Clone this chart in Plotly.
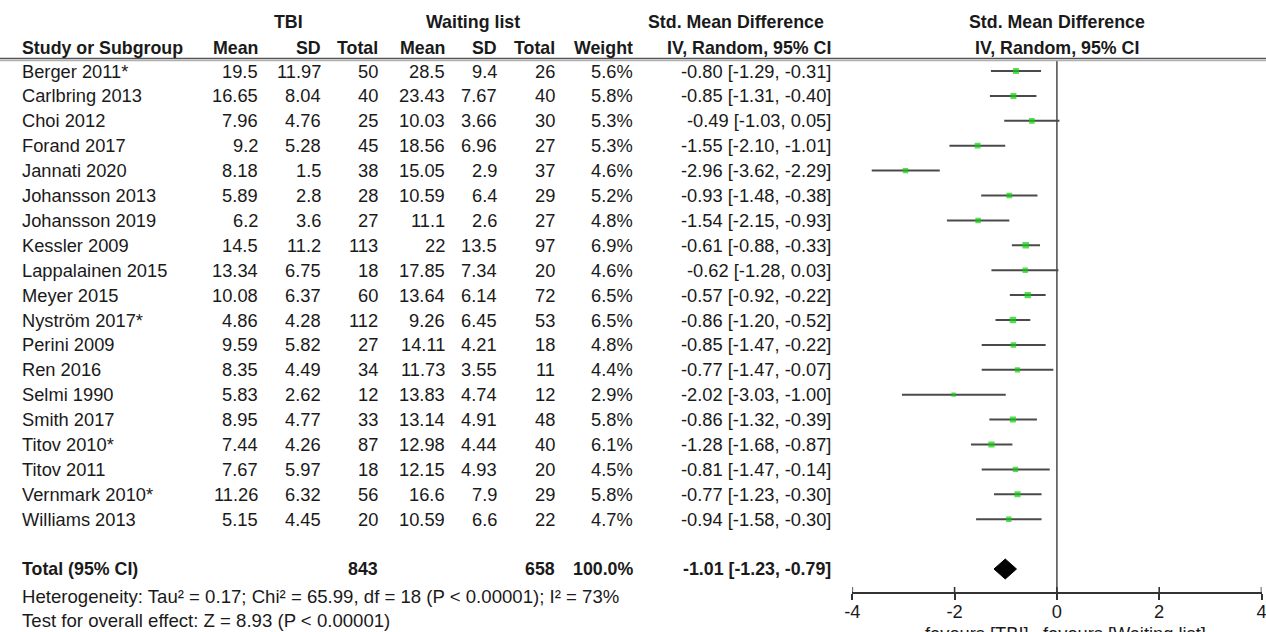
import plotly.graph_objects as go

# ---------------- data ----------------
studies = ["Berger 2011*", "Carlbring 2013", "Choi 2012", "Forand 2017", "Jannati 2020",
           "Johansson 2013", "Johansson 2019", "Kessler 2009", "Lappalainen 2015",
           "Meyer 2015", "Nyström 2017*", "Perini 2009", "Ren 2016", "Selmi 1990",
           "Smith 2017", "Titov 2010*", "Titov 2011", "Vernmark 2010*", "Williams 2013"]
tbi_mean = ["19.5", "16.65", "7.96", "9.2", "8.18", "5.89", "6.2", "14.5", "13.34", "10.08",
            "4.86", "9.59", "8.35", "5.83", "8.95", "7.44", "7.67", "11.26", "5.15"]
tbi_sd = ["11.97", "8.04", "4.76", "5.28", "1.5", "2.8", "3.6", "11.2", "6.75", "6.37",
          "4.28", "5.82", "4.49", "2.62", "4.77", "4.26", "5.97", "6.32", "4.45"]
tbi_n = [50, 40, 25, 45, 38, 28, 27, 113, 18, 60, 112, 27, 34, 12, 33, 87, 18, 56, 20]
wl_mean = ["28.5", "23.43", "10.03", "18.56", "15.05", "10.59", "11.1", "22", "17.85", "13.64",
           "9.26", "14.11", "11.73", "13.83", "13.14", "12.98", "12.15", "16.6", "10.59"]
wl_sd = ["9.4", "7.67", "3.66", "6.96", "2.9", "6.4", "2.6", "13.5", "7.34", "6.14",
         "6.45", "4.21", "3.55", "4.74", "4.91", "4.44", "4.93", "7.9", "6.6"]
wl_n = [26, 40, 30, 27, 37, 29, 27, 97, 20, 72, 53, 18, 11, 12, 48, 40, 20, 29, 22]
weight = [5.6, 5.8, 5.3, 5.3, 4.6, 5.2, 4.8, 6.9, 4.6, 6.5, 6.5, 4.8, 4.4, 2.9, 5.8, 6.1, 4.5, 5.8, 4.7]
smd = [-0.80, -0.85, -0.49, -1.55, -2.96, -0.93, -1.54, -0.61, -0.62, -0.57, -0.86, -0.85,
       -0.77, -2.02, -0.86, -1.28, -0.81, -0.77, -0.94]
ci_lo = [-1.29, -1.31, -1.03, -2.10, -3.62, -1.48, -2.15, -0.88, -1.28, -0.92, -1.20, -1.47,
         -1.47, -3.03, -1.32, -1.68, -1.47, -1.23, -1.58]
ci_hi = [-0.31, -0.40, 0.05, -1.01, -2.29, -0.38, -0.93, -0.33, 0.03, -0.22, -0.52, -0.22,
         -0.07, -1.00, -0.39, -0.87, -0.14, -0.30, -0.30]
total_tbi = 843
total_wl = 658
total_weight = "100.0%"
total_smd, total_lo, total_hi = -1.01, -1.23, -0.79
heterogeneity = "Heterogeneity: Tau² = 0.17; Chi² = 65.99, df = 18 (P < 0.00001); I² = 73%"
overall = "Test for overall effect: Z = 8.93 (P < 0.00001)"
x_ticks = [-4, -2, 0, 2, 4]

# ---------------- layout helpers ----------------
W, H = 1266, 632
ROW0_PX, ROW_PX = 71.0, 24.9


def row_of(px):
    return (px - ROW0_PX) / ROW_PX


def xp(px):
    return px / W


FONT = "Liberation Sans, Arial, sans-serif"
FS = 18.3
FSB = 17.8
TXT = "#1a1a1a"
n = len(studies)
rows = list(range(n))
total_row = n + 1
axis_px = 593

fig = go.Figure()

# CI lines + squares
fig.add_trace(go.Scatter(
    x=smd, y=rows, mode="markers",
    marker=dict(symbol="square", color="#10d010", size=[2.5 * w ** 0.5 for w in weight],
                line=dict(width=0)),
    error_x=dict(type="data", symmetric=False,
                 array=[h - s for h, s in zip(ci_hi, smd)],
                 arrayminus=[s - l for s, l in zip(smd, ci_lo)],
                 color="#4a4a4a", thickness=2, width=0),
    hoverinfo="skip", showlegend=False))

# total diamond
dh = 10 / ROW_PX
fig.add_trace(go.Scatter(
    x=[total_lo, total_smd, total_hi, total_smd, total_lo],
    y=[total_row, total_row - dh, total_row, total_row + dh, total_row],
    mode="lines", fill="toself", fillcolor="black", line=dict(color="black", width=1),
    hoverinfo="skip", showlegend=False))

ann = []


def text(s, x_px, y_px, anchor="left", bold=False, size=None):
    ann.append(dict(text=f"<b>{s}</b>" if bold else s, x=xp(x_px), xref="paper",
                    y=1 - y_px / H, yref="paper", xanchor=anchor, yanchor="middle",
                    showarrow=False,
                    font=dict(family=FONT, size=size or (FSB if bold else FS), color=TXT)))


def row_px(r):
    return ROW0_PX + r * ROW_PX


# headers
h1 = 22
h2 = 48
text("TBI", 288, h1, "center", True)
text("Waiting list", 473, h1, "center", True)
text("Std. Mean Difference", 736, h1, "center", True)
text("Std. Mean Difference", 1057, h1, "center", True)
text("Study or Subgroup", 20, h2, "left", True)
cols_right = [260, 323, 380, 447, 499, 557, 635]
for lab, xr in zip(["Mean", "SD", "Total", "Mean", "SD", "Total", "Weight"], cols_right):
    text(lab, xr, h2, "right", True)
text("IV, Random, 95% CI", 833, h2, "right", True)
text("IV, Random, 95% CI", 1057, h2, "center", True)

# rows
for i in range(n):
    y = row_px(i)
    text(studies[i], 20, y, "left")
    vals = [tbi_mean[i], tbi_sd[i], str(tbi_n[i]), wl_mean[i], wl_sd[i], str(wl_n[i]),
            f"{weight[i]:.1f}%"]
    for v, xr in zip(vals, cols_right):
        text(v, xr, y, "right")
    text(f"{smd[i]:.2f} [{ci_lo[i]:.2f}, {ci_hi[i]:.2f}]", 833, y, "right")

# total row
ty = row_px(total_row)
text("Total (95% CI)", 20, ty, "left", True)
text(str(total_tbi), 380, ty, "right", True)
text(str(total_wl), 557, ty, "right", True)
text(total_weight, 635, ty, "right", True)
text(f"{total_smd:.2f} [{total_lo:.2f}, {total_hi:.2f}]", 833, ty, "right", True)
text(heterogeneity, 20, 596, "left", size=18.6)
text(overall, 20, 620, "left", size=18.6)

# favours labels (partly cut at the bottom edge, as in the original)
text("favours [TBI]", 1031, 633, "right")
text("favours [Waiting list]", 1041, 633, "left")

shapes = [
    dict(type="line", xref="paper", yref="y", x0=0, x1=1, y0=row_of(58.5), y1=row_of(58.5),
         line=dict(color="#555555", width=1.5)),
    dict(type="line", xref="paper", yref="y", x0=0, x1=1, y0=row_of(60.5), y1=row_of(60.5),
         line=dict(color="#b0b0b0", width=1.5)),
    dict(type="line", xref="x", yref="y", x0=0, x1=0, y0=row_of(60), y1=row_of(axis_px),
         line=dict(color="#555555", width=1.6), layer="below"),
]
# upward halves of the axis ticks
for t in x_ticks:
    shapes.append(dict(type="line", xref="x", yref="y", x0=t, x1=t,
                       y0=row_of(axis_px), y1=row_of(axis_px - 6),
                       line=dict(color="#333333", width=1.6)))

axis_pos = 1 - axis_px / H
fig.update_layout(
    width=W, height=H, margin=dict(l=0, r=0, t=0, b=0, autoexpand=False),
    paper_bgcolor="white", plot_bgcolor="rgba(0,0,0,0)", showlegend=False,
    annotations=ann, shapes=shapes,
    xaxis=dict(domain=[852.3 / W, 1261.5 / W], range=[-4, 4], anchor="free", position=axis_pos,
               automargin=False,
               showgrid=False, zeroline=False, showline=True, linecolor="#333333", linewidth=1.8,
               ticks="outside", ticklen=6, tickwidth=1.6, tickcolor="#333333",
               tickvals=x_ticks, ticktext=[str(t) for t in x_ticks], ticklabeloverflow="allow",
               ticklabelstandoff=-4,
               tickfont=dict(family=FONT, size=FS, color=TXT), fixedrange=True),
    yaxis=dict(domain=[0, 1], range=[row_of(H), row_of(0)], visible=False, fixedrange=True,
               automargin=False),
)

fig.write_html("out.html")
